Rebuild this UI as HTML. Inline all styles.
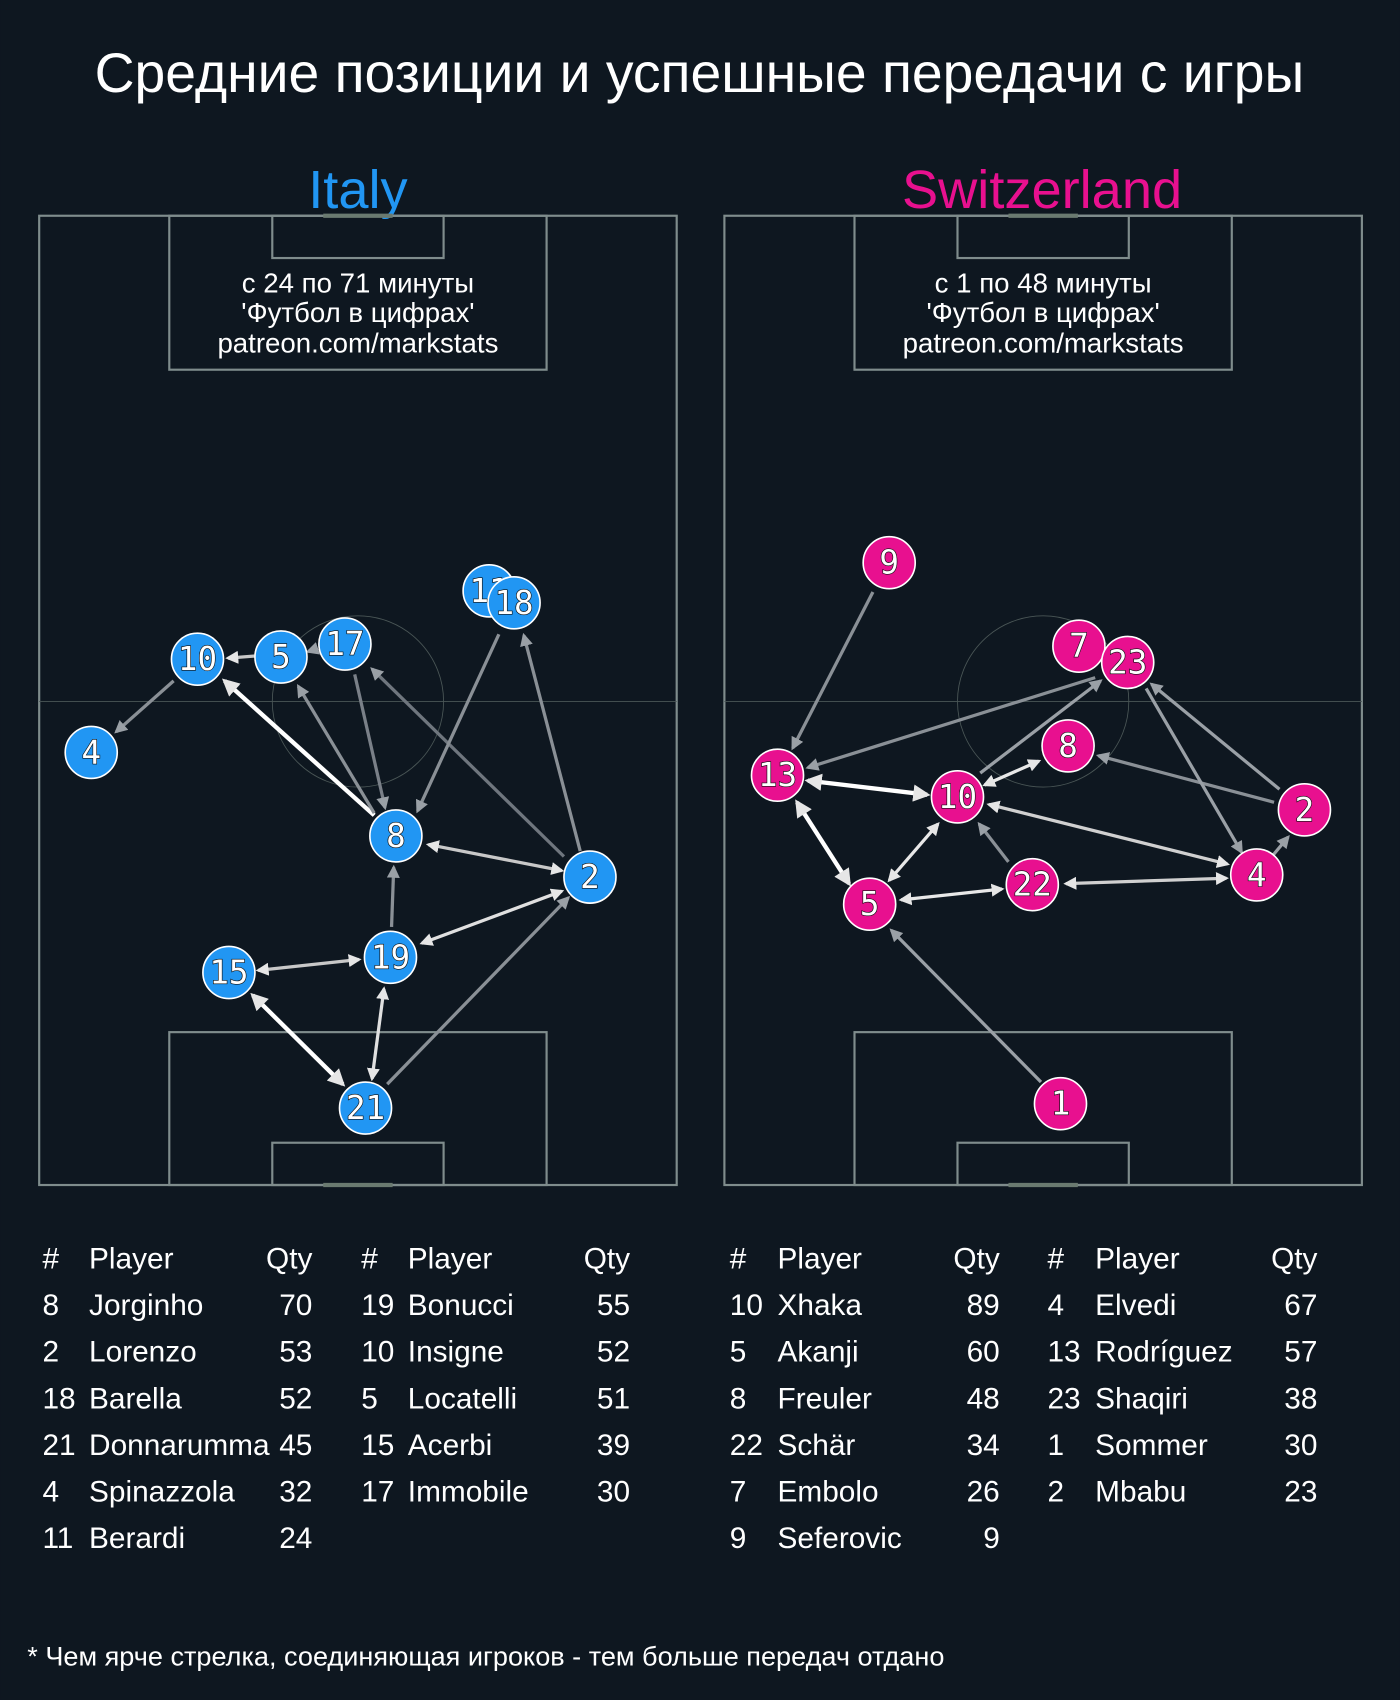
<!DOCTYPE html>
<html><head><meta charset="utf-8"><style>
html,body{margin:0;padding:0;background:#0e1720;}
svg{display:block}
text{font-family:"Liberation Sans",sans-serif;}
.n{font-family:"DejaVu Sans Mono",monospace;font-size:30px;fill:#fff;stroke:#111;stroke-width:1.2px;paint-order:stroke;text-anchor:middle;dominant-baseline:central}
.t{font-size:27.5px;fill:#fff}
.r{text-anchor:end}
</style></head><body>
<svg width="1400" height="1700" viewBox="0 0 1291 1568" xmlns="http://www.w3.org/2000/svg">
<defs>
<marker id="g" viewBox="0 0 10 10" refX="8" refY="5" markerWidth="4" markerHeight="4" orient="auto-start-reverse"><path d="M0,0L10,5L0,10z" fill="#9aa0a6"/></marker>
<marker id="w" viewBox="0 0 10 10" refX="8" refY="5" markerWidth="4" markerHeight="4" orient="auto-start-reverse"><path d="M0,0L10,5L0,10z" fill="#e6e6e6"/></marker>
<g id="pitch" fill="none" stroke="#7f8c8c" stroke-width="2">
<rect x="36" y="199" width="588" height="894"/>
<rect x="156" y="199" width="348" height="142"/>
<rect x="251" y="199" width="158" height="39"/>
<rect x="156" y="952" width="348" height="141"/>
<rect x="251" y="1054" width="158" height="39"/>
<line x1="36" y1="647" x2="624" y2="647" stroke-width="0.8" stroke="#4a5656"/>
<circle cx="330" cy="647" r="79" stroke-width="0.8" stroke="#4a5656"/>
<line x1="298" y1="199" x2="362" y2="199" stroke="#6a7a70" stroke-width="4"/>
<line x1="298" y1="1093" x2="362" y2="1093" stroke="#6a7a70" stroke-width="4"/>
</g>
</defs>
<rect width="1291" height="1568" fill="#0e1720"/>
<text x="645" y="85" font-size="51" fill="#fff" text-anchor="middle">Средние позиции и успешные передачи с игры</text>
<text x="330" y="192" font-size="50" fill="#2196f3" text-anchor="middle">Italy</text>
<text x="961" y="192" font-size="50" fill="#e8108f" text-anchor="middle">Switzerland</text>
<use href="#pitch"/>
<use href="#pitch" x="632"/>
<g font-size="25.5" fill="#fff" text-anchor="middle">
<text x="330" y="270">с 24 по 71 минуты</text><text x="330" y="297">'Футбол в цифрах'</text><text x="330" y="325">patreon.com/markstats</text>
<text x="962" y="270">с 1 по 48 минуты</text><text x="962" y="297">'Футбол в цифрах'</text><text x="962" y="325">patreon.com/markstats</text>
</g>
<g fill="none" stroke-width="3">
<line x1="345" y1="752" x2="207" y2="628" stroke="#fff" stroke-width="4" marker-end="url(#w)"/>
<line x1="160" y1="628" x2="107" y2="675" stroke="#8a9096" marker-end="url(#g)"/>
<line x1="236" y1="605" x2="210" y2="607" stroke="#c8c8c8" marker-end="url(#w)"/>
<line x1="293" y1="598" x2="284" y2="601" stroke="#8a9096" marker-end="url(#g)"/>
<line x1="345" y1="750" x2="275" y2="633" stroke="#8a9096" marker-end="url(#g)"/>
<line x1="327" y1="622" x2="355" y2="745" stroke="#7a8088" marker-end="url(#g)"/>
<line x1="520" y1="790" x2="343" y2="617" stroke="#6f767e" marker-end="url(#g)"/>
<line x1="460" y1="585" x2="385" y2="748" stroke="#8a9096" marker-end="url(#g)"/>
<line x1="535" y1="785" x2="483" y2="586" stroke="#8a9096" marker-end="url(#g)"/>
<line x1="395" y1="779" x2="518" y2="803" stroke="#c8c8c8" marker-start="url(#w)" marker-end="url(#w)"/>
<line x1="361" y1="855" x2="363" y2="800" stroke="#8a9096" marker-end="url(#g)"/>
<line x1="389" y1="870" x2="518" y2="822" stroke="#e0e0e0" marker-start="url(#w)" marker-end="url(#w)"/>
<line x1="238" y1="895" x2="331" y2="885" stroke="#c8c8c8" marker-start="url(#w)" marker-end="url(#w)"/>
<line x1="233" y1="918" x2="316" y2="1000" stroke="#fff" stroke-width="4" marker-start="url(#w)" marker-end="url(#w)"/>
<line x1="343" y1="995" x2="354" y2="912" stroke="#e0e0e0" marker-start="url(#w)" marker-end="url(#w)"/>
<line x1="357" y1="1000" x2="524" y2="828" stroke="#8a9096" marker-end="url(#g)"/>
</g>
<g fill="none" stroke-width="3">
<line x1="805" y1="546" x2="731" y2="690" stroke="#8a9096" marker-end="url(#g)"/>
<line x1="1010" y1="625" x2="745" y2="708" stroke="#8a9096" marker-end="url(#g)"/>
<line x1="745" y1="720" x2="855" y2="733" stroke="#fff" stroke-width="4" marker-start="url(#w)" marker-end="url(#w)"/>
<line x1="735" y1="740" x2="783" y2="815" stroke="#fff" stroke-width="4" marker-start="url(#w)" marker-end="url(#w)"/>
<line x1="820" y1="812" x2="865" y2="760" stroke="#e8e8e8" marker-start="url(#w)" marker-end="url(#w)"/>
<line x1="904" y1="713" x2="1015" y2="628" stroke="#9aa0a6" marker-end="url(#g)"/>
<line x1="908" y1="724" x2="958" y2="702" stroke="#e8e8e8" marker-start="url(#w)" marker-end="url(#w)"/>
<line x1="1175" y1="740" x2="1013" y2="697" stroke="#8a9096" marker-end="url(#g)"/>
<line x1="912" y1="742" x2="1132" y2="797" stroke="#d0d0d0" marker-start="url(#w)" marker-end="url(#w)"/>
<line x1="930" y1="795" x2="903" y2="760" stroke="#8a9096" marker-end="url(#g)"/>
<line x1="831" y1="830" x2="924" y2="820" stroke="#e8e8e8" marker-start="url(#w)" marker-end="url(#w)"/>
<line x1="983" y1="815" x2="1131" y2="810" stroke="#d0d0d0" marker-start="url(#w)" marker-end="url(#w)"/>
<line x1="1057" y1="635" x2="1145" y2="786" stroke="#9aa0a6" marker-end="url(#g)"/>
<line x1="1180" y1="728" x2="1062" y2="631" stroke="#9aa0a6" marker-end="url(#g)"/>
<line x1="1173" y1="790" x2="1188" y2="772" stroke="#9aa0a6" marker-end="url(#g)"/>
<line x1="960" y1="998" x2="822" y2="858" stroke="#9aa0a6" marker-end="url(#g)"/>
</g>
<g fill="#2196f3" stroke="#fff" stroke-width="1.5">
<circle cx="182" cy="608" r="24"/><circle cx="259" cy="606" r="24"/><circle cx="318" cy="594" r="24"/>
<circle cx="451" cy="545" r="24"/>
</g>
<text x="182" y="608" class="n">10</text><text x="259" y="606" class="n">5</text><text x="318" y="594" class="n">17</text>
<text x="451" y="545" class="n">11</text>
<g fill="#2196f3" stroke="#fff" stroke-width="1.5">
<circle cx="474" cy="556" r="24"/><circle cx="84" cy="694" r="24"/>
<circle cx="365" cy="771" r="24"/><circle cx="544" cy="809" r="24"/><circle cx="360" cy="883" r="24"/>
<circle cx="211" cy="897" r="24"/><circle cx="337" cy="1022" r="24"/>
</g>
<text x="474" y="556" class="n">18</text><text x="84" y="694" class="n">4</text><text x="365" y="771" class="n">8</text>
<text x="544" y="809" class="n">2</text><text x="360" y="883" class="n">19</text><text x="211" y="897" class="n">15</text>
<text x="337" y="1022" class="n">21</text>
<g fill="#e8108f" stroke="#fff" stroke-width="1.5">
<circle cx="820" cy="519" r="24"/><circle cx="995" cy="596" r="24"/><circle cx="1040" cy="611" r="24"/>
<circle cx="717" cy="715" r="24"/><circle cx="883" cy="735" r="24"/><circle cx="985" cy="688" r="24"/>
<circle cx="1203" cy="747" r="24"/><circle cx="1159" cy="807" r="24"/><circle cx="952" cy="816" r="24"/>
<circle cx="802" cy="834" r="24"/><circle cx="978" cy="1018" r="24"/>
</g>
<text x="820" y="519" class="n">9</text><text x="995" y="596" class="n">7</text><text x="1040" y="611" class="n">23</text>
<text x="717" y="715" class="n">13</text><text x="883" y="735" class="n">10</text><text x="985" y="688" class="n">8</text>
<text x="1203" y="747" class="n">2</text><text x="1159" y="807" class="n">4</text><text x="952" y="816" class="n">22</text>
<text x="802" y="834" class="n">5</text><text x="978" y="1018" class="n">1</text>
<g class="t">
<text x="39" y="1170">#</text><text x="82" y="1170">Player</text><text x="288" y="1170" class="r">Qty</text>
<text x="39" y="1213">8</text><text x="82" y="1213">Jorginho</text><text x="288" y="1213" class="r">70</text>
<text x="39" y="1256">2</text><text x="82" y="1256">Lorenzo</text><text x="288" y="1256" class="r">53</text>
<text x="39" y="1299">18</text><text x="82" y="1299">Barella</text><text x="288" y="1299" class="r">52</text>
<text x="39" y="1342">21</text><text x="82" y="1342">Donnarumma</text><text x="288" y="1342" class="r">45</text>
<text x="39" y="1385">4</text><text x="82" y="1385">Spinazzola</text><text x="288" y="1385" class="r">32</text>
<text x="39" y="1428">11</text><text x="82" y="1428">Berardi</text><text x="288" y="1428" class="r">24</text>
<text x="333" y="1170">#</text><text x="376" y="1170">Player</text><text x="581" y="1170" class="r">Qty</text>
<text x="333" y="1213">19</text><text x="376" y="1213">Bonucci</text><text x="581" y="1213" class="r">55</text>
<text x="333" y="1256">10</text><text x="376" y="1256">Insigne</text><text x="581" y="1256" class="r">52</text>
<text x="333" y="1299">5</text><text x="376" y="1299">Locatelli</text><text x="581" y="1299" class="r">51</text>
<text x="333" y="1342">15</text><text x="376" y="1342">Acerbi</text><text x="581" y="1342" class="r">39</text>
<text x="333" y="1385">17</text><text x="376" y="1385">Immobile</text><text x="581" y="1385" class="r">30</text>
<text x="673" y="1170">#</text><text x="717" y="1170">Player</text><text x="922" y="1170" class="r">Qty</text>
<text x="673" y="1213">10</text><text x="717" y="1213">Xhaka</text><text x="922" y="1213" class="r">89</text>
<text x="673" y="1256">5</text><text x="717" y="1256">Akanji</text><text x="922" y="1256" class="r">60</text>
<text x="673" y="1299">8</text><text x="717" y="1299">Freuler</text><text x="922" y="1299" class="r">48</text>
<text x="673" y="1342">22</text><text x="717" y="1342">Schär</text><text x="922" y="1342" class="r">34</text>
<text x="673" y="1385">7</text><text x="717" y="1385">Embolo</text><text x="922" y="1385" class="r">26</text>
<text x="673" y="1428">9</text><text x="717" y="1428">Seferovic</text><text x="922" y="1428" class="r">9</text>
<text x="966" y="1170">#</text><text x="1010" y="1170">Player</text><text x="1215" y="1170" class="r">Qty</text>
<text x="966" y="1213">4</text><text x="1010" y="1213">Elvedi</text><text x="1215" y="1213" class="r">67</text>
<text x="966" y="1256">13</text><text x="1010" y="1256">Rodríguez</text><text x="1215" y="1256" class="r">57</text>
<text x="966" y="1299">23</text><text x="1010" y="1299">Shaqiri</text><text x="1215" y="1299" class="r">38</text>
<text x="966" y="1342">1</text><text x="1010" y="1342">Sommer</text><text x="1215" y="1342" class="r">30</text>
<text x="966" y="1385">2</text><text x="1010" y="1385">Mbabu</text><text x="1215" y="1385" class="r">23</text>
</g>
<text x="25" y="1536" font-size="25" fill="#fff">* Чем ярче стрелка, соединяющая игроков - тем больше передач отдано</text>
</svg>
</body></html>
